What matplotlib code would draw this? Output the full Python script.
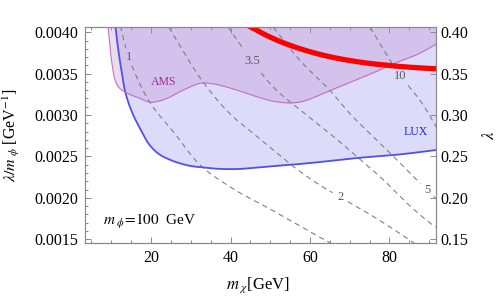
import numpy as np
import matplotlib
matplotlib.use('Agg')
import matplotlib.pyplot as plt
from matplotlib.ticker import MultipleLocator, FixedLocator

plt.rcParams['font.family'] = ['Liberation Serif', 'DejaVu Serif']
plt.rcParams['mathtext.fontset'] = 'stix'
plt.rcParams['lines.scale_dashes'] = False

# ---------------- data (m_chi [GeV], lambda/m_phi [GeV^-1]) ----------------
lux_x = [11.01, 11.44, 12.02, 12.70, 13.53, 15.21, 17.73, 19.42, 21.94, 25.29,
         29.50, 32.42, 37.38, 42.42, 47.46, 52.49, 57.53, 62.07, 72.14, 82.22, 91.86]
lux_y = [0.004076, 0.003899, 0.003698, 0.003496, 0.003275, 0.003034, 0.002792,
         0.002651, 0.002530, 0.002449, 0.002389, 0.002370, 0.002349, 0.002349,
         0.002370, 0.002389, 0.002409, 0.002430, 0.002482, 0.002522, 0.002578]

ams_x = [9.17, 10.18, 11.01, 11.86, 13.53, 16.90, 19.82, 23.60, 27.81, 32.42,
         35.69, 40.73, 45.77, 50.81, 55.01, 58.36, 62.14, 67.10, 72.14, 77.18,
         81.38, 87.25, 91.86]
ams_y = [0.004076, 0.003617, 0.003415, 0.003336, 0.003275, 0.003207, 0.003155,
         0.003194, 0.003295, 0.003384, 0.003376, 0.003315, 0.003234, 0.003167,
         0.003146, 0.003167, 0.003237, 0.003336, 0.003436, 0.003536, 0.003626,
         0.003738, 0.003859]

red_x = [44.43, 47.46, 49.97, 53.25, 57.53, 62.07, 66.35, 70.38, 75.16, 78.94,
         82.72, 87.25, 91.79]
red_y = [0.004082, 0.004002, 0.003942, 0.003874, 0.003801, 0.003738, 0.003691,
         0.003656, 0.003623, 0.003604, 0.003587, 0.003571, 0.003559]

contour_1_x = [12.27, 14.38, 19.42, 26.05, 32.34, 40.73, 49.14, 55.01, 61.74, 65.59]
contour_1_y = [0.004076, 0.003698, 0.003174, 0.002772, 0.002397, 0.002107,
               0.001886, 0.001727, 0.001543, 0.001443]
contour_2_x = [24.46, 32.85, 39.90, 45.37, 50.73, 55.84, 61.74, 67.61, 75.99, 84.41, 86.50]
contour_2_y = [0.004060, 0.003415, 0.003013, 0.002792, 0.002580, 0.002377,
               0.002176, 0.002007, 0.001773, 0.001512, 0.001443]
contour_35_x = [39.40, 45.37, 50.81, 56.70, 65.09, 71.81, 78.51, 84.41, 90.28, 92.04]
contour_35_y = [0.004064, 0.003657, 0.003336, 0.003094, 0.002772, 0.002498,
                0.002216, 0.001935, 0.001693, 0.001636]
contour_5_x = [50.81, 57.53, 65.09, 70.13, 80.20, 88.59, 92.04]
contour_5_y = [0.004060, 0.003657, 0.003295, 0.003013, 0.002539, 0.002135, 0.001975]
contour_10_x = [75.16, 79.70, 82.72, 87.76, 91.11, 92.04]
contour_10_y = [0.004060, 0.003698, 0.003476, 0.003174, 0.002913, 0.002832]

contour_labels = ['1', '2', '3.5', '5', '10']
contour_label_x = [14.38, 67.61, 45.37, 89.52, 82.72]
contour_label_y = [0.003698, 0.002007, 0.003657, 0.002095, 0.003476]

m_phi = 100.0
x_ticks = [20, 40, 60, 80]
y_ticks = [0.0015, 0.0020, 0.0025, 0.0030, 0.0035, 0.0040]
lam_ticks = [0.15, 0.20, 0.25, 0.30, 0.35, 0.40]

xlim = (3.25, 91.6)
ylim = (0.00145, 0.004064)

# ---------------- figure ----------------
fig = plt.figure(figsize=(4.98, 2.99), dpi=100)
ax = fig.add_axes([84.5 / 498, 1 - 243.3 / 299, 351 / 498, 216.3 / 299])
ax.set_xlim(*xlim)
ax.set_ylim(*ylim)
fig.canvas.draw()


def smooth_display(xs, ys, n=25):
    """Centripetal Catmull-Rom through the points, computed in display space."""
    P = ax.transData.transform(np.column_stack([xs, ys]))
    P = np.vstack([2 * P[0] - P[1], P, 2 * P[-1] - P[-2]])
    out = []
    for i in range(1, len(P) - 2):
        p0, p1, p2, p3 = P[i - 1], P[i], P[i + 1], P[i + 2]
        t0 = 0.0
        t1 = t0 + np.linalg.norm(p1 - p0) ** 0.5 + 1e-9
        t2 = t1 + np.linalg.norm(p2 - p1) ** 0.5 + 1e-9
        t3 = t2 + np.linalg.norm(p3 - p2) ** 0.5 + 1e-9
        t = np.linspace(t1, t2, n, endpoint=False)[:, None]
        A1 = (t1 - t) / (t1 - t0) * p0 + (t - t0) / (t1 - t0) * p1
        A2 = (t2 - t) / (t2 - t1) * p1 + (t - t1) / (t2 - t1) * p2
        A3 = (t3 - t) / (t3 - t2) * p2 + (t - t2) / (t3 - t2) * p3
        B1 = (t2 - t) / (t2 - t0) * A1 + (t - t0) / (t2 - t0) * A2
        B2 = (t3 - t) / (t3 - t1) * A2 + (t - t1) / (t3 - t1) * A3
        C = (t2 - t) / (t2 - t1) * B1 + (t - t1) / (t2 - t1) * B2
        out.append(C)
    out.append(P[-2][None, :])
    return np.vstack(out)


def to_data(D):
    return ax.transData.inverted().transform(D)


lux_s = to_data(smooth_display(lux_x, lux_y))
ams_s = to_data(smooth_display(ams_x, ams_y))
red_s = to_data(smooth_display(red_x, red_y))

lux_fill = '#dcdcfa'
ax.fill_between(lux_s[:, 0], lux_s[:, 1], ylim[1] + 0.001, color=lux_fill, lw=0, zorder=1)
ax.fill_between(ams_s[:, 0], ams_s[:, 1], ylim[1] + 0.001,
                color=(192 / 255, 138 / 255, 205 / 255), alpha=0.3, lw=0, zorder=2)

# dashed contour lines with gaps at the labels
contours = [(contour_1_x, contour_1_y), (contour_2_x, contour_2_y),
            (contour_35_x, contour_35_y), (contour_5_x, contour_5_y),
            (contour_10_x, contour_10_y)]
for (cx, cy), lab, lx, ly in zip(contours, contour_labels, contour_label_x, contour_label_y):
    D = smooth_display(cx, cy)
    lp = ax.transData.transform((lx, ly))
    r = 5.5 + 3.0 * len(lab)
    mask = np.hypot(D[:, 0] - lp[0], D[:, 1] - lp[1]) < r
    D = D.copy()
    D[mask] = np.nan
    data = to_data(D)
    ax.plot(data[:, 0], data[:, 1], color='#7a7a7a', lw=0.75,
            dashes=(3.8, 2.9), zorder=3)
    ax.text(lx, ly, lab, color='#5a5a5a', fontsize=9, ha='center', va='center', zorder=4)

ax.plot(lux_s[:, 0], lux_s[:, 1], color='#5050ee', lw=1.3, zorder=5)
ax.plot(ams_s[:, 0], ams_s[:, 1], color='#c070c0', lw=0.8, zorder=5)
ax.plot(red_s[:, 0], red_s[:, 1], color='#ff0000', lw=3.8, solid_capstyle='butt', zorder=6)

ax.text(23.15, 0.003400, 'AMS', color='#9b2d9b', fontsize=8.5, ha='center', va='center', zorder=7)
ax.text(86.62, 0.002796, 'LUX', color='#2020ff', fontsize=8.5, ha='center', va='center', zorder=7)
ax.text(7.9, 0.001709, r'$m_{\ \phi}\!=\!100\ $ GeV', fontsize=11, ha='left', va='center', zorder=7)

# ticks & spines
spine_col = '#8a8a8a'
for sp in ax.spines.values():
    sp.set_color(spine_col)
    sp.set_linewidth(0.8)
ax.xaxis.set_major_locator(FixedLocator(x_ticks))
ax.xaxis.set_minor_locator(MultipleLocator(5))
ax.yaxis.set_major_locator(FixedLocator(y_ticks))
ax.yaxis.set_minor_locator(MultipleLocator(0.0001))
ax.set_yticklabels([f'{v:.4f}' for v in y_ticks])
ax.tick_params(which='both', direction='in', top=True, right=False, color=spine_col,
               labelsize=11.5, width=0.7)
ax.tick_params(which='major', length=4)
ax.tick_params(which='minor', length=2)
ax.tick_params(axis='y', pad=4.5)
ax.tick_params(axis='x', pad=5)

ax2 = ax.twinx()
ax2.set_ylim(ylim[0] * m_phi, ylim[1] * m_phi)
ax2.yaxis.set_major_locator(FixedLocator(lam_ticks))
ax2.set_yticklabels([f'{v:.2f}' for v in lam_ticks])
ax2.tick_params(which='both', direction='in', color=spine_col, labelsize=11.5,
                length=4, width=0.7, pad=3.5)
for sp in ax2.spines.values():
    sp.set_color(spine_col)
    sp.set_linewidth(0.8)

ax.set_xlabel(r'$m_{\ \chi}$[GeV]', fontsize=12)
ax.xaxis.set_label_coords(0.494, -0.15)
ax.set_ylabel(r'$\lambda/m_{\ \phi}$ [GeV$^{-1}$]', fontsize=11.5)
ax.yaxis.set_label_coords(-0.178, 0.5)
ax2.set_ylabel(r'$\lambda$', fontsize=12)
ax2.yaxis.set_label_coords(1.133, 0.5)

fig.savefig('out.png', dpi=100)
